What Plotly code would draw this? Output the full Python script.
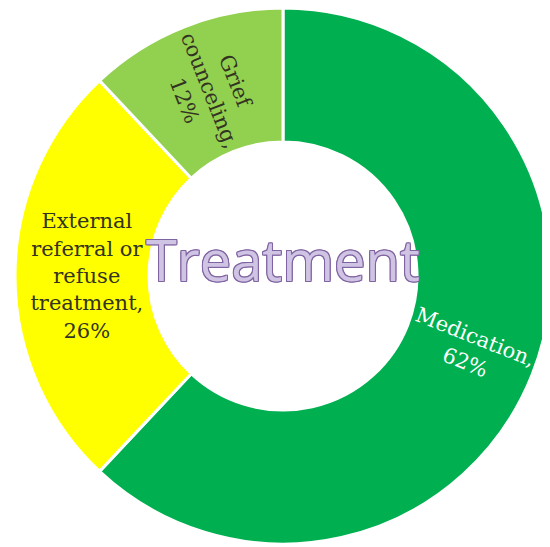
import math
import plotly.graph_objects as go

categories = ["Medication", "External referral or refuse treatment", "Grief counceling"]
values = [62, 26, 12]
label_text = ["",
              "External<br>referral or<br>refuse<br>treatment,<br>26%",
              "Grief<br>counceling,<br>12%"]
medication_label = "Medication,<br>62%"
colors = ["#00B050", "#FFFF00", "#92D050"]
text_colors = ["#FFFFFF", "#333322", "#333322"]
center_title = "Treatment"

W, H = 550, 547
dom_x = [7 / W, 543 / W]
dom_y = [11 / H, 1.0]
HOLE = 0.5

fig = go.Figure(go.Pie(
    labels=categories,
    values=values,
    text=label_text,
    textinfo="text",
    texttemplate="%{text}",
    textposition="inside",
    insidetextorientation="radial",
    hole=HOLE,
    sort=False,
    direction="clockwise",
    rotation=0,
    marker=dict(colors=colors, line=dict(color="white", width=3)),
    textfont=dict(family="DejaVu Serif", size=21, color=text_colors),
    domain=dict(x=dom_x, y=dom_y),
    showlegend=False,
    hoverinfo="label+percent",
))

# Medication label: placed at the slice's mid-angle, rotated radially (derived from values)
total = sum(values)
mid_frac = (values[0] / 2) / total
theta = 2 * math.pi * mid_frac  # clockwise from 12 o'clock
cx_px = (dom_x[0] + dom_x[1]) / 2 * W
cy_px = (dom_y[0] + dom_y[1]) / 2 * H
R = min((dom_x[1] - dom_x[0]) * W, (dom_y[1] - dom_y[0]) * H) / 2
r_mid = R * (1 + HOLE) / 2
lx = (cx_px + r_mid * math.sin(theta)) / W
ly = (cy_px + r_mid * math.cos(theta)) / H
fig.add_annotation(
    x=lx, y=ly, xref="paper", yref="paper",
    xanchor="center", yanchor="middle",
    text=medication_label, showarrow=False,
    textangle=math.degrees(theta) - 90,
    font=dict(family="DejaVu Serif", size=21, color=text_colors[0]),
)

outline = "#8064A2"
shadow = ", ".join(f"{dx}px {dy}px 0 {outline}" for dx, dy in
                   [(1, 1), (-1, -1), (1, -1), (-1, 1), (0, 1), (0, -1), (1, 0), (-1, 0)])
fig.add_annotation(
    x=cx_px / W, y=cy_px / H, xref="paper", yref="paper",
    xanchor="center", yanchor="middle",
    text=center_title, showarrow=False, yshift=17,
    font=dict(family="Open Sans", size=56, color="#D0C4E4", shadow=shadow),
)

fig.update_layout(
    width=W, height=H,
    margin=dict(l=0, r=0, t=0, b=0),
    paper_bgcolor="white",
    plot_bgcolor="white",
    uniformtext=dict(minsize=21, mode="show"),
)

fig.write_html("out.html")
